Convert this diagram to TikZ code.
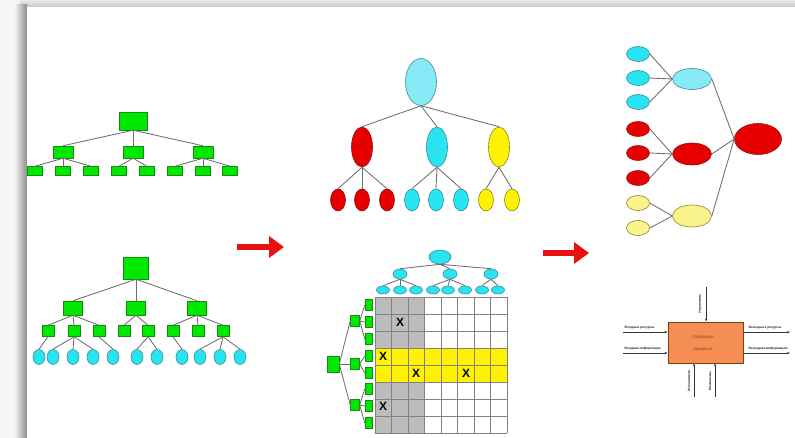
\documentclass[tikz,border=0pt]{standalone}
\usepackage{fontspec}
\setmainfont{Liberation Sans}
\usetikzlibrary{shapes.geometric,arrows.meta}
\definecolor{gfill}{RGB}{0,232,0}
\definecolor{gline}{RGB}{20,140,20}
\definecolor{cfill}{RGB}{40,228,240}
\definecolor{clight}{RGB}{135,234,246}
\definecolor{cline}{RGB}{60,140,150}
\definecolor{rfill}{RGB}{232,0,0}
\definecolor{rline}{RGB}{140,20,20}
\definecolor{yfill}{RGB}{255,242,0}
\definecolor{ylight}{RGB}{250,244,140}
\definecolor{yline}{RGB}{140,130,30}
\definecolor{edgec}{RGB}{110,110,110}
\definecolor{gridc}{RGB}{130,130,130}
\definecolor{grayc}{RGB}{188,188,188}
\definecolor{orangec}{RGB}{244,142,82}
\definecolor{oline}{RGB}{130,60,20}
\definecolor{otext}{RGB}{150,60,30}
\definecolor{arrowred}{RGB}{232,16,16}
\definecolor{shadow}{RGB}{140,140,140}
\tikzset{
 gbox/.style 2 args={rectangle,draw=gline,fill=gfill,line width=0.5pt,inner sep=0pt,minimum width=#1pt,minimum height=#2pt},
 ov/.style 2 args={ellipse,line width=0.6pt,inner sep=0pt,minimum width=#1pt,minimum height=#2pt},
 cov/.style 2 args={ov={#1}{#2},fill=cfill,draw=cline},
 clov/.style 2 args={ov={#1}{#2},fill=clight,draw=cline},
 rov/.style 2 args={ov={#1}{#2},fill=rfill,draw=rline},
 yov/.style 2 args={ov={#1}{#2},fill=yfill,draw=yline},
 ylov/.style 2 args={ov={#1}{#2},fill=ylight,draw=yline},
 link/.style={draw=edgec,line width=0.85pt},
 bigarrow/.style={draw=arrowred,line width=6pt,-{Triangle[length=15pt,width=21pt]}},
 xmark/.style={font=\bfseries\fontsize{12}{12}\selectfont,inner sep=0pt},
 flow/.style={draw=black!80,line width=0.6pt,-{Stealth[length=3pt,width=2.2pt]}},
 tiny/.style={font=\bfseries\fontsize{3.3}{4}\selectfont,inner sep=0.5pt,text=black!85},
 idef/.style={rectangle,draw=oline,fill=orangec,line width=0.8pt,minimum width=75pt,minimum height=41pt,inner sep=0pt}
}
\begin{document}
\begin{tikzpicture}[x=1pt,y=-1pt]
\useasboundingbox (0,0) rectangle (795,438);
% frame
\fill[black!4] (0,0) rectangle (795,438);
\shade[top color=black!8,bottom color=black!22] (20,0) rectangle (795,7);
\shade[left color=black!6,right color=shadow] (15,5) rectangle (27,438);
\fill[white] (27,7) rectangle (795,438);

% ---- top-left tree
\node[gbox={28}{18}] (A) at (133,121) {};
\foreach \n/\x in {1/63,2/133,3/203} \node[gbox={20}{12}] (A\n) at (\x,152) {};
\foreach \n/\x in {11/35,12/63,13/91,21/119,22/147,31/175,32/203,33/230}
  \node[gbox={15}{9}] (A\n) at (\x,171) {};
\foreach \p/\c in {A/A1,A/A2,A/A3,A1/A11,A1/A12,A1/A13,A2/A21,A2/A22,A3/A31,A3/A32,A3/A33}
  \draw[link] (\p.south) -- (\c.north);

% ---- bottom-left tree
\node[gbox={25}{22}] (B) at (136,268) {};
\foreach \n/\x in {1/73,2/136,3/197} \node[gbox={19}{14}] (B\n) at (\x,308) {};
\foreach \n/\x in {11/48,12/74,13/99,21/124,22/148,31/173,32/198,33/223}
  \node[gbox={12}{11}] (B\n) at (\x,331) {};
\foreach \n/\x in {1/39,2/53,3/73,4/93,5/113,6/137,7/157,8/182,9/200,10/220,11/240}
  \node[cov={12}{15}] (L\n) at (\x,357) {};
\foreach \p/\c in {B/B1,B/B2,B/B3,B1/B11,B1/B12,B1/B13,B2/B21,B2/B22,B3/B31,B3/B32,B3/B33,
  B11/L1,B12/L2,B12/L3,B12/L4,B13/L5,B22/L6,B22/L7,B31/L8,B33/L9,B33/L10,B33/L11}
  \draw[link] (\p.south) -- (\c.north);

% ---- red arrows
\coordinate (r1s) at (237,247); \coordinate (r1e) at (284,247);
\draw[bigarrow] (r1s) -- (r1e);
\coordinate (r2s) at (543,253); \coordinate (r2e) at (589,253);
\draw[bigarrow] (r2s) -- (r2e);

% ---- middle top tree
\node[clov={31}{47}] (C) at (421,82) {};
\node[rov={21}{40}] (C1) at (362,147) {};
\node[cov={21}{40}] (C2) at (437,147) {};
\node[yov={21}{40}] (C3) at (499,147) {};
\foreach \n/\x in {11/338,12/362,13/387} \node[rov={15}{22}] (C\n) at (\x,200) {};
\foreach \n/\x in {21/412,22/436,23/461} \node[cov={15}{22}] (C\n) at (\x,200) {};
\foreach \n/\x in {31/486,32/512} \node[yov={15}{22}] (C\n) at (\x,200) {};
\foreach \p/\c in {C/C1,C/C2,C/C3,C1/C11,C1/C12,C1/C13,C2/C21,C2/C22,C2/C23,C3/C31,C3/C32}
  \draw[link] (\p.south) -- (\c.north);

% ---- middle bottom: grid
\fill[grayc] (375,297) rectangle (424.5,433);
\fill[yfill] (375,348) rectangle (507,382);
\foreach \i in {0,...,8} \draw[gridc,line width=0.8pt] (375+16.5*\i,297) -- (375+16.5*\i,433);
\foreach \j in {0,...,8} \draw[gridc,line width=0.8pt] (375,297+17*\j) -- (507,297+17*\j);
\node[xmark] at (400,322) {X};
\node[xmark] at (383,356) {X};
\node[xmark] at (416,373) {X};
\node[xmark] at (466,373) {X};
\node[xmark] at (383,406) {X};

% cyan tree above grid
\node[cov={22}{14}] (D) at (440,257) {};
\foreach \n/\x in {1/400,2/450,3/491} \node[cov={14}{10}] (D\n) at (\x,274) {};
\foreach \n/\x in {11/383,12/400,13/416,21/433,22/448,23/465,31/482,32/498}
  \node[cov={13}{8}] (D\n) at (\x,290) {};
\foreach \p/\c in {D/D1,D/D2,D/D3,D1/D11,D1/D12,D1/D13,D2/D21,D2/D22,D2/D23,D3/D31,D3/D32}
  \draw[link] (\p.south) -- (\c.north);

% green tree left of grid
\node[gbox={12}{16}] (E) at (333,364) {};
\foreach \n/\y in {1/321,2/364,3/405} \node[gbox={9}{11}] (E\n) at (355,\y) {};
\foreach \n/\y in {11/305,12/322,13/339,21/356,22/373,31/389,32/406,33/423}
  \node[gbox={7}{11}] (E\n) at (368.5,\y) {};
\foreach \p/\c in {E/E1,E/E2,E/E3,E1/E11,E1/E12,E1/E13,E2/E21,E2/E22,E3/E31,E3/E32,E3/E33}
  \draw[link] (\p.east) -- (\c.west);

% ---- right top
\foreach \n/\y in {1/54,2/78,3/102} \node[cov={23}{15}] (F\n) at (638,\y) {};
\foreach \n/\y in {4/129,5/153,6/178} \node[rov={23}{15}] (F\n) at (638,\y) {};
\foreach \n/\y in {7/203,8/228} \node[ylov={23}{15}] (F\n) at (638,\y) {};
\node[clov={39}{21}] (G1) at (692,79) {};
\node[rov={39}{22}] (G2) at (692,154) {};
\node[ylov={39}{22}] (G3) at (692,216) {};
\node[rov={47}{31}] (H) at (758,139) {};
\foreach \c/\p in {F1/G1,F2/G1,F3/G1,F4/G2,F5/G2,F6/G2,F7/G3,F8/G3}
  \draw[link] (\c.east) -- (\p.west);
\foreach \c in {G1,G2,G3} \draw[link] (\c.east) -- (H.west);

% ---- right bottom: IDEF0 block
\node[idef] (I) at (705.5,342.5) {};
\node[font=\fontsize{4.5}{5}\selectfont,text=otext,inner sep=0pt] (It1) at (703,337) {Операция};
\node[font=\fontsize{4.5}{5}\selectfont,text=otext,inner sep=0pt] (It2) at (703,350) {процесса};
\coordinate (in1) at (623,332); \coordinate (in2) at (623,353);
\coordinate (out1) at (790,332); \coordinate (out2) at (790,353);
\coordinate (ctl) at (706,287);
\coordinate (m1) at (694,397); \coordinate (m2) at (715,397);
\draw[flow] (in1) -- (in1 -| I.west);
\draw[flow] (in2) -- (in2 -| I.west);
\draw[flow] (out1 -| I.east) -- (out1);
\draw[flow] (out2 -| I.east) -- (out2);
\draw[flow] (ctl) -- (ctl |- I.north);
\draw[flow] (m1) -- (m1 |- I.south);
\draw[flow] (m2) -- (m2 |- I.south);
\node[tiny,anchor=south west] (lin1) at (624,330) {Входные ресурсы};
\node[tiny,anchor=south west] (lin2) at (624,351) {Входная информация};
\node[tiny,anchor=south west] (lout1) at (748,330) {Выходные ресурсы};
\node[tiny,anchor=south west] (lout2) at (748,351) {Выходная информация};
\node[tiny,rotate=90] (lctl) at (700,304) {Управление};
\node[tiny,rotate=90] (lm1) at (689,381) {Исполнители};
\node[tiny,rotate=90] (lm2) at (710,381) {Механизмы};
\end{tikzpicture}
\end{document}
